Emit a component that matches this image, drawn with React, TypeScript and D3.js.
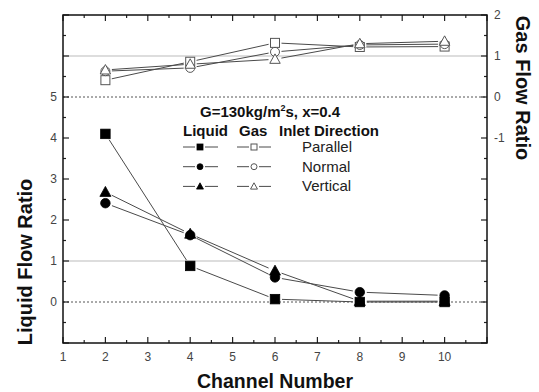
import React from "react";
import * as d3 from "d3";

const channels = [2, 4, 6, 8, 10];
const series = ["Parallel", "Normal", "Vertical"];
const liquidParallel = [4.1, 0.88, 0.07, 0.0, 0.0];
const liquidNormal = [2.41, 1.63, 0.6, 0.24, 0.16];
const liquidVertical = [2.68, 1.66, 0.76, 0.02, 0.02];
const gasParallel = [0.41, 0.86, 1.32, 1.22, 1.23];
const gasNormal = [0.63, 0.71, 1.1, 1.27, 1.29];
const gasVertical = [0.66, 0.8, 0.92, 1.3, 1.36];
const xTicks = [1, 2, 3, 4, 5, 6, 7, 8, 9, 10];
const leftTickLabels = [0, 1, 2, 3, 4, 5];
const rightTickLabels = [-1, 0, 1, 2];

const W = 539, H = 392;
const L = 63, R = 487, T = 15, B = 343;
const FONT = "'Liberation Sans', Arial, Helvetica, sans-serif";

const x = d3.scaleLinear().domain([1, 11]).range([L, R]);
const yL = d3.scaleLinear().domain([-1, 7]).range([B, T]);
const yR = d3.scaleLinear().domain([-6, 2]).range([B, T]);

type Shape = "square" | "circle" | "triangle";
const shapes: Shape[] = ["square", "circle", "triangle"];

function Marker({ cx, cy, shape, filled, s }: { cx: number; cy: number; shape: Shape; filled: boolean; s: number }) {
  const fill = filled ? "#000" : "#fff";
  const stroke = filled ? "#000" : "#555";
  const sw = filled ? 0.8 : 1;
  if (shape === "square")
    return <rect x={cx - s / 2} y={cy - s / 2} width={s} height={s} fill={fill} stroke={stroke} strokeWidth={sw} />;
  if (shape === "circle") return <circle cx={cx} cy={cy} r={s / 2} fill={fill} stroke={stroke} strokeWidth={sw} />;
  const h = s * 1.0;
  const pts = [
    [cx, cy - h * 0.6],
    [cx + s * 0.58, cy + h * 0.45],
    [cx - s * 0.58, cy + h * 0.45],
  ];
  return <polygon points={pts.map((p) => p.join(",")).join(" ")} fill={fill} stroke={stroke} strokeWidth={sw} />;
}

function gappedSegments(pts: [number, number][], gap: number) {
  const segs: string[] = [];
  for (let i = 0; i < pts.length - 1; i++) {
    const [x1, y1] = pts[i];
    const [x2, y2] = pts[i + 1];
    const dx = x2 - x1, dy = y2 - y1;
    const len = Math.hypot(dx, dy);
    if (len <= 2 * gap) continue;
    const ux = dx / len, uy = dy / len;
    segs.push(`M${x1 + ux * gap},${y1 + uy * gap}L${x2 - ux * gap},${y2 - uy * gap}`);
  }
  return segs.join("");
}

export default function App() {
  const liquid = [liquidParallel, liquidNormal, liquidVertical];
  const gas = [gasParallel, gasNormal, gasVertical];

  const xMinor = d3.range(1.5, 11, 1);
  const yLMajor = d3.range(-1, 8, 1);
  const yLMinor = d3.range(-0.5, 7, 1);
  const yRMajor = d3.range(-6, 3, 1);
  const yRMinor = d3.range(-5.5, 2, 1);

  const tickCol = "#222";
  const lineCol = "#4a4a4a";

  return (
    <svg width={W} height={H} style={{ position: "absolute", left: 0, top: 0, background: "#fff" }} fontFamily={FONT}>
      <rect x={0} y={0} width={W} height={H} fill="#fff" />
      {/* reference lines */}
      {[6, 1].map((v) => (
        <line key={"g" + v} x1={L} x2={R} y1={yL(v)} y2={yL(v)} stroke="#bbb" strokeWidth={1} />
      ))}
      {[5, 0].map((v) => (
        <line key={"d" + v} x1={L} x2={R} y1={yL(v)} y2={yL(v)} stroke="#555" strokeWidth={1} strokeDasharray="2,2" />
      ))}

      {/* ticks */}
      {xTicks.concat([11]).map((v) => (
        <g key={"xt" + v}>
          <line x1={x(v)} x2={x(v)} y1={B} y2={B - 6} stroke={tickCol} strokeWidth={1.2} />
          <line x1={x(v)} x2={x(v)} y1={T} y2={T + 6} stroke={tickCol} strokeWidth={1.2} />
        </g>
      ))}
      {xMinor.map((v) => (
        <g key={"xm" + v}>
          <line x1={x(v)} x2={x(v)} y1={B} y2={B - 3} stroke={tickCol} strokeWidth={1.2} />
          <line x1={x(v)} x2={x(v)} y1={T} y2={T + 3} stroke={tickCol} strokeWidth={1.2} />
        </g>
      ))}
      {yLMajor.map((v) => (
        <line key={"yl" + v} x1={L} x2={L + 6} y1={yL(v)} y2={yL(v)} stroke={tickCol} strokeWidth={1.2} />
      ))}
      {yLMinor.map((v) => (
        <line key={"ylm" + v} x1={L} x2={L + 3} y1={yL(v)} y2={yL(v)} stroke={tickCol} strokeWidth={1.2} />
      ))}
      {yRMajor.map((v) => (
        <line key={"yr" + v} x1={R} x2={R - 6} y1={yR(v)} y2={yR(v)} stroke={tickCol} strokeWidth={1.2} />
      ))}
      {yRMinor.map((v) => (
        <line key={"yrm" + v} x1={R} x2={R - 3} y1={yR(v)} y2={yR(v)} stroke={tickCol} strokeWidth={1.2} />
      ))}

      {/* frame */}
      <rect x={L} y={T} width={R - L} height={B - T} fill="none" stroke="#111" strokeWidth={1.5} />

      {/* tick labels */}
      {xTicks.map((v) => (
        <text key={"xl" + v} x={x(v)} y={B + 18} fontSize={12} fill="#444" textAnchor="middle">
          {v}
        </text>
      ))}
      {leftTickLabels.map((v) => (
        <text key={"ll" + v} x={L - 6} y={yL(v) + 4} fontSize={12} fill="#444" textAnchor="end">
          {v}
        </text>
      ))}
      {rightTickLabels.map((v) => (
        <text key={"rl" + v} x={R + 7} y={yR(v) + 4} fontSize={12} fill="#444" textAnchor="start">
          {v}
        </text>
      ))}

      {/* axis titles */}
      <text x={275} y={388} fontSize={19.5} fontWeight="bold" textAnchor="middle" fill="#111">
        Channel Number
      </text>
      <text transform={`translate(32,262) rotate(-90)`} fontSize={20} fontWeight="bold" textAnchor="middle" fill="#111">
        Liquid Flow Ratio
      </text>
      <text transform={`translate(516,88) rotate(90)`} fontSize={20} fontWeight="bold" textAnchor="middle" fill="#111">
        Gas Flow Ratio
      </text>

      {/* gas lines + markers */}
      {gas.map((vals, i) => {
        const pts = channels.map((c, j) => [x(c), yR(vals[j])] as [number, number]);
        return <path key={"gl" + i} d={gappedSegments(pts, 6.5)} stroke={lineCol} strokeWidth={1} fill="none" />;
      })}
      {gas.map((vals, i) =>
        channels.map((c, j) => (
          <Marker key={"gm" + i + "-" + j} cx={x(c)} cy={yR(vals[j])} shape={shapes[i]} filled={false} s={9} />
        ))
      )}

      {/* liquid lines + markers */}
      {liquid.map((vals, i) => {
        const pts = channels.map((c, j) => [x(c), yL(vals[j])] as [number, number]);
        return <path key={"ll" + i} d={gappedSegments(pts, 7)} stroke={lineCol} strokeWidth={1} fill="none" />;
      })}
      {liquid.map((vals, i) =>
        channels.map((c, j) => (
          <Marker key={"lm" + i + "-" + j} cx={x(c)} cy={yL(vals[j])} shape={shapes[i]} filled={true} s={9.5} />
        ))
      )}

      {/* legend */}
      <text x={200} y={117} fontSize={15} fontWeight="bold" fill="#111">
        G=130kg/m<tspan dy={-6} fontSize={9}>2</tspan>
        <tspan dy={6}>s, x=0.4</tspan>
      </text>
      <text x={183} y={136} fontSize={15} fontWeight="bold" fill="#111">Liquid</text>
      <text x={239} y={136} fontSize={15} fontWeight="bold" fill="#111">Gas</text>
      <text x={279} y={136} fontSize={15} fontWeight="bold" fill="#111">Inlet Direction</text>
      {series.map((name, i) => {
        const cy = 147 + i * 19.7;
        return (
          <g key={"lg" + i}>
            <line x1={183} x2={195} y1={cy} y2={cy} stroke={lineCol} />
            <line x1={205} x2={218} y1={cy} y2={cy} stroke={lineCol} />
            <Marker cx={200} cy={cy} shape={shapes[i]} filled={true} s={6} />
            <line x1={237} x2={249} y1={cy} y2={cy} stroke={lineCol} />
            <line x1={259} x2={271} y1={cy} y2={cy} stroke={lineCol} />
            <Marker cx={254} cy={cy} shape={shapes[i]} filled={false} s={6} />
            <text x={302} y={cy + 5} fontSize={15} fill="#222">
              {name}
            </text>
          </g>
        );
      })}
    </svg>
  );
}
